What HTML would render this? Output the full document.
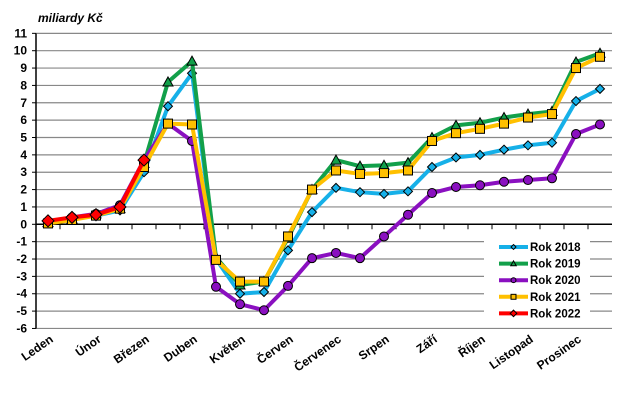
<!DOCTYPE html>
<html><head><meta charset="utf-8"><style>
body{margin:0;background:#fff}
svg text{font-family:"Liberation Sans",Arial,sans-serif;font-weight:bold}
</style></head><body>
<svg id="c" width="631" height="400" xmlns="http://www.w3.org/2000/svg">
<text x="38" y="22" font-size="12" font-style="italic">miliardy Kč</text>
<g id="grid"></g><g id="series"></g>
<g>
<rect x="484" y="234" width="106" height="92" fill="#fff"/>
<g id="leg"></g>
</g>
</svg>
<script>
const months=["Leden","Únor","Březen","Duben","Květen","Červen","Červenec","Srpen","Září","Říjen","Listopad","Prosinec"];
const yTicks=[-6,-5,-4,-3,-2,-1,0,1,2,3,4,5,6,7,8,9,10,11];
const names=["Rok 2018","Rok 2019","Rok 2020","Rok 2021","Rok 2022"];
const y2018=[0.1,0.3,0.5,0.8,3.0,6.8,8.7,-2.0,-4.0,-3.9,-1.5,0.7,2.1,1.85,1.75,1.9,3.3,3.85,4.0,4.3,4.55,4.7,7.1,7.8];
const y2019=[0.1,0.3,0.6,0.9,3.5,8.2,9.4,-1.9,-3.5,-3.3,-0.8,2.0,3.7,3.35,3.4,3.55,5.0,5.7,5.85,6.15,6.35,6.5,9.35,9.85];
const y2020=[0.15,0.4,0.6,1.1,3.7,5.8,4.8,-3.6,-4.6,-4.95,-3.55,-1.95,-1.65,-1.95,-0.7,0.55,1.8,2.15,2.25,2.45,2.55,2.65,5.2,5.75];
const y2021=[0.05,0.25,0.5,0.9,3.3,5.8,5.75,-2.05,-3.3,-3.3,-0.7,2.0,3.1,2.9,2.95,3.1,4.8,5.25,5.5,5.8,6.15,6.35,9.0,9.65];
const y2022=[0.2,0.4,0.55,1.0,3.7];
const NS="http://www.w3.org/2000/svg";
const L=36,R=612,W=24,N=24;
const yS=v=>224.3-v*17.36;
const xS=i=>L+W*(i+0.5);
function mk(t,a,p){const e=document.createElementNS(NS,t);for(const k in a)e.setAttribute(k,a[k]);p.appendChild(e);return e;}
const g=document.getElementById('grid');
yTicks.forEach(v=>{
 const l=mk('line',{x1:L,x2:R,y1:yS(v),y2:yS(v),stroke:v===0?'#000':'#888','stroke-width':v===0?1.5:1.2},g);
 
 
 mk('line',{x1:L-4,x2:L,y1:yS(v),y2:yS(v),stroke:'#000'},g);
 const t=mk('text',{x:27,y:yS(v)+4,'text-anchor':'end','font-size':12},g);t.textContent=v;
 
 
});
mk('line',{x1:L,x2:L,y1:yS(11),y2:yS(-6),stroke:'#000','stroke-width':1.5},g);
for(let i=1;i<N;i++)mk('line',{x1:L+W*i,x2:L+W*i,y1:yS(0),y2:yS(0)+5,stroke:'#000'},g);
months.forEach((m,k)=>{
 const cx=L+W*(2*k+1)-6;
 const t=mk('text',{x:cx,y:341,'text-anchor':'end','font-size':12,transform:`rotate(-35 ${cx} 341)`},g);t.textContent=m;
 
 
});
const cols=["#16b0e8","#12a04a","#8a10c0","#ffc000","#ff0000"];
const data=[y2018,y2019,y2020,y2021,y2022];
const sg=document.getElementById('series');
function marker(k,x,y,p,s){
 const a={stroke:'#000','stroke-width':1,fill:cols[k]};
 if(k===0||k===4){const r=(k===4?6:4.5)*s;return mk('polygon',Object.assign({points:`${x},${y-r} ${x+r},${y} ${x},${y+r} ${x-r},${y}`},a),p);}
 if(k===1){const r=5*s;return mk('polygon',Object.assign({points:`${x},${y-r} ${x+r},${y+r*0.8} ${x-r},${y+r*0.8}`},a),p);}
 if(k===2){return mk('circle',Object.assign({cx:x,cy:y,r:4.5*s},a),p);}
 const r=4.5*s;return mk('rect',Object.assign({x:x-r,y:y-r,width:2*r,height:2*r},a),p);
}
data.forEach((d,k)=>{
 const gg=mk('g',{},sg);
 
 
 mk('polyline',{points:d.map((v,i)=>xS(i)+','+yS(v)).join(' '),fill:'none',stroke:cols[k],'stroke-width':4,'stroke-linejoin':'round'},gg);
 d.forEach((v,i)=>{const m=marker(k,xS(i),yS(v),gg,1);
  
  });
});
const lg=document.getElementById('leg');
names.forEach((n,k)=>{
 const y=247+k*16.6;
 const e=mk('g',{},lg);
 
 
 mk('line',{x1:499,x2:528,y1:y,y2:y,stroke:cols[k],'stroke-width':4},e);
 marker(k,513.5,y,e,0.55);
 const t=mk('text',{x:530,y:y+4,'font-size':11.5},e);t.textContent=n;
});
</script>
</body></html>
